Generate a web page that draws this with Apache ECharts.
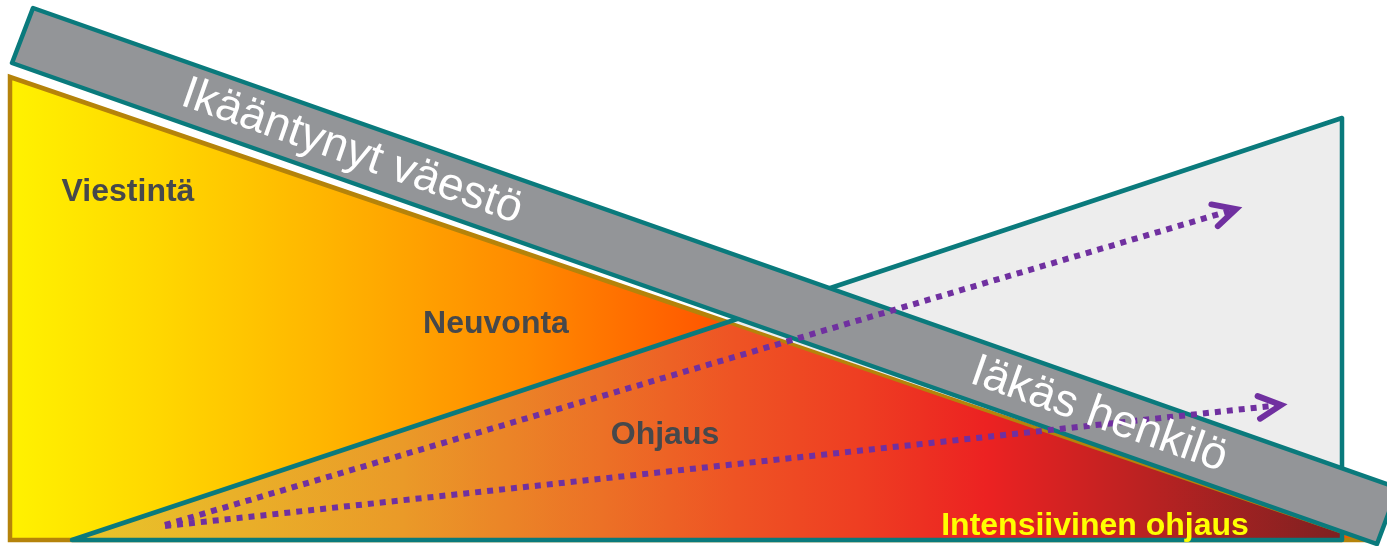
<!DOCTYPE html>
<html><head><meta charset="utf-8">
<script src="https://cdn.jsdelivr.net/npm/echarts@6/dist/echarts.min.js"></script>
<style>html,body{margin:0;padding:0;background:#fff;overflow:hidden}#c{width:1387px;height:546px}</style>
</head><body><div id="c"></div>
<script>
// Diagram data (x: 0..1387 to the right, y: 0..546 downward)
const leftTriangle = [[10,77],[10,540],[1365,540]];
const rightTriangle = [[72,540],[1342,118],[1342,540]];
const band = [[33,8],[1398,488],[1377,544],[12,63]];
const arrowStarts = [[165,525],[165,526]];
const arrowEnds = [[1236,209],[1281,405]];
const bandLabels = ['Ikääntynyt väestö','Iäkäs henkilö'];
const bandLabelPos = [[352,152],[1099,415]];
const zoneLabels = ['Viestintä','Neuvonta','Ohjaus','Intensiivinen ohjaus'];
const zoneLabelPos = [[128,192],[496,324],[665,435],[1095,526]];

function intersect(a1,a2,b1,b2){
  const d=(a2[0]-a1[0])*(b2[1]-b1[1])-(a2[1]-a1[1])*(b2[0]-b1[0]);
  const t=((b1[0]-a1[0])*(b2[1]-b1[1])-(b1[1]-a1[1])*(b2[0]-b1[0]))/d;
  return [a1[0]+t*(a2[0]-a1[0]), a1[1]+t*(a2[1]-a1[1])];
}
const cross = intersect(leftTriangle[0],leftTriangle[2],rightTriangle[0],rightTriangle[1]);
const xr = rightTriangle[1][0];
const yAtRight = leftTriangle[0][1]+(xr-leftTriangle[0][0])*(leftTriangle[2][1]-leftTriangle[0][1])/(leftTriangle[2][0]-leftTriangle[0][0]);
const overlap = [rightTriangle[0], cross, [xr,yAtRight], rightTriangle[2]];

const TEAL='#0A7A7C', BROWN='#B5830A', PURPLE='#7030A0';
const chart = echarts.init(document.getElementById('c'),null,{renderer:'canvas'});

function renderItem(params, api){
  const P = p => api.coord(p);
  const pts = arr => arr.map(P);
  const x0=P([leftTriangle[0][0],0])[0], xc=P(cross)[0];
  const xa=P([rightTriangle[0][0],0])[0], xb=P([xr,0])[0];
  const G = echarts.graphic.LinearGradient;
  const leftFill = new G(x0,0,xc,0,[
    {offset:0,color:'#FFF200'},{offset:0.2,color:'#FFD800'},{offset:0.45,color:'#FFB300'},
    {offset:0.72,color:'#FF8A00'},{offset:1,color:'#FF5300'}],true);
  const ovFill = new G(xa,0,xb,0,[
    {offset:0,color:'#E8C62A'},{offset:0.26,color:'#EA9A28'},{offset:0.42,color:'#EC7026'},
    {offset:0.52,color:'#EE5424'},{offset:0.62,color:'#EE3E22'},{offset:0.72,color:'#EC2222'},
    {offset:0.85,color:'#B82222'},{offset:1,color:'#7E2121'}],true);
  const children = [];
  children.push({type:'polygon',shape:{points:pts(leftTriangle)},style:{fill:leftFill,stroke:BROWN,lineWidth:4.5}});
  children.push({type:'polygon',shape:{points:pts(rightTriangle)},style:{fill:'#EDEDED'}});
  children.push({type:'polygon',shape:{points:pts(overlap)},style:{fill:ovFill}});
  children.push({type:'polyline',shape:{points:pts([cross,[xr,yAtRight]])},style:{stroke:BROWN,lineWidth:3.5,fill:null}});
  children.push({type:'polygon',shape:{points:pts(rightTriangle)},style:{fill:null,stroke:TEAL,lineWidth:4.5,lineJoin:'round'}});
  children.push({type:'polygon',shape:{points:pts(band)},style:{fill:'#939598',stroke:TEAL,lineWidth:4.5,lineJoin:'round'}});
  arrowEnds.forEach((e,i)=>{
    const s=P(arrowStarts[i]), t=P(e);
    const ang=Math.atan2(t[1]-s[1],t[0]-s[0]);
    const tEnd=[t[0]-6*Math.cos(ang), t[1]-6*Math.sin(ang)];
    children.push({type:'polyline',shape:{points:[s,tEnd]},style:{stroke:PURPLE,lineWidth:6,lineDash:[6,6],lineCap:'butt',fill:null}});
    const L=25, w=27*Math.PI/180;
    const a1=[t[0]-L*Math.cos(ang-w), t[1]-L*Math.sin(ang-w)];
    const a2=[t[0]-L*Math.cos(ang+w), t[1]-L*Math.sin(ang+w)];
    children.push({type:'polyline',shape:{points:[a1,t,a2]},style:{stroke:PURPLE,lineWidth:6,lineCap:'round',lineJoin:'miter',fill:null}});
  });
  const b1=P(band[3]), b2=P(band[2]);
  const bandAng=Math.atan2(b2[1]-b1[1],b2[0]-b1[0]);
  bandLabels.forEach((t,i)=>{
    const p=P(bandLabelPos[i]);
    children.push({type:'text',x:p[0],y:p[1],rotation:-bandAng,
      style:{text:t,x:0,y:0,fill:'#FFFFFF',font:'46px "Liberation Sans", Arial, sans-serif',
        align:'center',verticalAlign:'middle',textAlign:'center',textVerticalAlign:'middle'}});
  });
  zoneLabels.forEach((t,i)=>{
    const p=P(zoneLabelPos[i]);
    children.push({type:'text',x:p[0],y:p[1],
      style:{text:t,x:0,y:0,fill:i===3?'#FFFF00':'#46484B',font:'bold 32px "Liberation Sans", Arial, sans-serif',
        align:'center',verticalAlign:'middle',textAlign:'center',textVerticalAlign:'middle'}});
  });
  return {type:'group',children};
}

chart.setOption({
  animation:false,
  grid:{left:0,right:0,top:0,bottom:0},
  xAxis:{type:'value',min:0,max:1387,show:false},
  yAxis:{type:'value',min:0,max:546,inverse:true,show:false},
  series:[{type:'custom',renderItem,data:[[0,0]],clip:false,silent:true}]
});
</script></body></html>
